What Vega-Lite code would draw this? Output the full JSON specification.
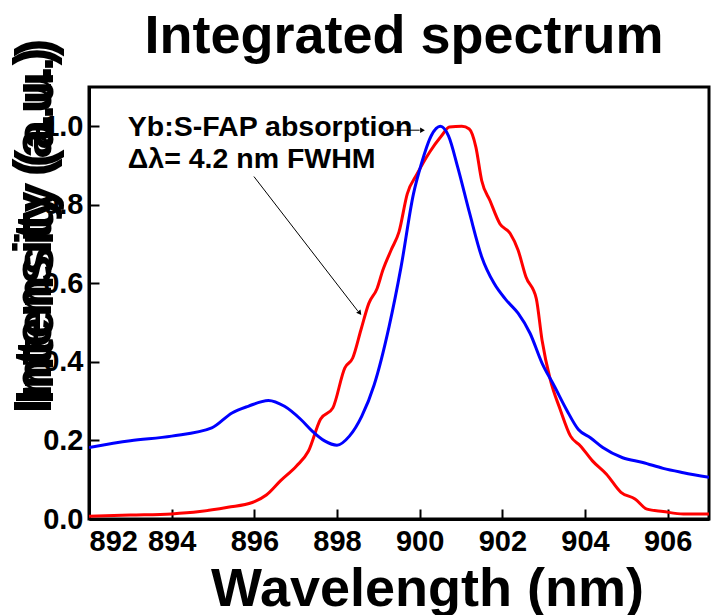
{
  "$schema": "https://vega.github.io/schema/vega-lite/v6.json",
  "autosize": "none",
  "width": 620,
  "height": 432,
  "padding": {"left": 89, "top": 87, "right": 3, "bottom": 96},
  "background": "white",
  "title": {"text": "Integrated spectrum", "fontSize": 54, "font": "Liberation Sans", "fontWeight": "bold", "color": "black", "anchor": "middle", "dx": 5, "dy": 54, "offset": 28},
  "config": {
    "view": {"stroke": "black", "strokeWidth": 3},
    "axis": {
      "grid": false,
      "domainColor": "black", "domainWidth": 3,
      "tickColor": "black", "tickWidth": 2, "tickSize": -10,
      "labelFont": "Liberation Sans", "labelFontWeight": "bold", "labelFontSize": 29, "labelColor": "black",
      "titleFont": "Liberation Sans", "titleFontWeight": "bold", "titleFontSize": 54, "titleColor": "black"
    }
  },
  "datasets": {
    "red": [
      {"wl": 892.0, "v": 0.007}, {"wl": 893.0, "v": 0.010}, {"wl": 894.0, "v": 0.013}, {"wl": 894.68, "v": 0.019},
      {"wl": 895.36, "v": 0.030}, {"wl": 895.95, "v": 0.042}, {"wl": 896.29, "v": 0.061}, {"wl": 896.63, "v": 0.097},
      {"wl": 897.02, "v": 0.135}, {"wl": 897.31, "v": 0.173}, {"wl": 897.6, "v": 0.254}, {"wl": 897.9, "v": 0.283},
      {"wl": 898.19, "v": 0.385}, {"wl": 898.38, "v": 0.41}, {"wl": 898.58, "v": 0.482}, {"wl": 898.77, "v": 0.549},
      {"wl": 898.97, "v": 0.587}, {"wl": 899.11, "v": 0.634}, {"wl": 899.31, "v": 0.685}, {"wl": 899.5, "v": 0.731},
      {"wl": 899.7, "v": 0.828}, {"wl": 899.94, "v": 0.879}, {"wl": 900.24, "v": 0.934}, {"wl": 900.53, "v": 0.976},
      {"wl": 900.72, "v": 0.998}, {"wl": 901.02, "v": 1.0}, {"wl": 901.2, "v": 0.993}, {"wl": 901.36, "v": 0.947},
      {"wl": 901.5, "v": 0.862}, {"wl": 901.7, "v": 0.811}, {"wl": 901.94, "v": 0.752}, {"wl": 902.19, "v": 0.727},
      {"wl": 902.38, "v": 0.685}, {"wl": 902.57, "v": 0.617}, {"wl": 902.82, "v": 0.562}, {"wl": 902.96, "v": 0.456},
      {"wl": 903.16, "v": 0.355}, {"wl": 903.4, "v": 0.279}, {"wl": 903.65, "v": 0.211}, {"wl": 903.89, "v": 0.186},
      {"wl": 904.18, "v": 0.148}, {"wl": 904.52, "v": 0.114}, {"wl": 904.87, "v": 0.068}, {"wl": 905.21, "v": 0.051},
      {"wl": 905.5, "v": 0.025}, {"wl": 905.89, "v": 0.019}, {"wl": 906.38, "v": 0.013}, {"wl": 907.0, "v": 0.013}
    ],
    "blue": [
      {"wl": 892.0, "v": 0.182}, {"wl": 893.0, "v": 0.199}, {"wl": 894.0, "v": 0.211}, {"wl": 894.97, "v": 0.232},
      {"wl": 895.46, "v": 0.27}, {"wl": 895.85, "v": 0.287}, {"wl": 896.34, "v": 0.302}, {"wl": 896.73, "v": 0.287},
      {"wl": 897.12, "v": 0.254}, {"wl": 897.4, "v": 0.224}, {"wl": 897.7, "v": 0.199}, {"wl": 898.0, "v": 0.188},
      {"wl": 898.3, "v": 0.211}, {"wl": 898.6, "v": 0.262}, {"wl": 898.9, "v": 0.342}, {"wl": 899.26, "v": 0.49},
      {"wl": 899.55, "v": 0.642}, {"wl": 899.85, "v": 0.828}, {"wl": 900.04, "v": 0.904}, {"wl": 900.28, "v": 0.976},
      {"wl": 900.5, "v": 1.0}, {"wl": 900.7, "v": 0.975}, {"wl": 900.92, "v": 0.896}, {"wl": 901.21, "v": 0.778},
      {"wl": 901.5, "v": 0.668}, {"wl": 901.8, "v": 0.60}, {"wl": 902.09, "v": 0.558}, {"wl": 902.38, "v": 0.524},
      {"wl": 902.67, "v": 0.473}, {"wl": 902.96, "v": 0.397}, {"wl": 903.26, "v": 0.338}, {"wl": 903.55, "v": 0.279},
      {"wl": 903.84, "v": 0.228}, {"wl": 904.13, "v": 0.207}, {"wl": 904.43, "v": 0.182}, {"wl": 904.91, "v": 0.156},
      {"wl": 905.4, "v": 0.144}, {"wl": 905.89, "v": 0.129}, {"wl": 906.38, "v": 0.118}, {"wl": 907.0, "v": 0.106}
    ],
    "notes": [
      {"wl": 892.94, "v": 0.974, "label": "Yb:S-FAP absorption"},
      {"wl": 892.94, "v": 0.895, "label": "Δλ= 4.2 nm FWHM"}
    ],
    "arrows": [
      {"wl": 899.2, "v": 0.99, "wl2": 900.0, "v2": 0.99},
      {"wl": 895.99, "v": 0.872, "wl2": 898.5, "v2": 0.53}
    ],
    "headRight": [{"wl": 900.05, "v": 0.99}],
    "headDiag": [{"wl": 898.54, "v": 0.526}]
  },
  "layer": [
    {
      "data": {"name": "red"},
      "mark": {"type": "line", "color": "#ff0000", "strokeWidth": 3, "clip": true, "interpolate": "monotone"},
      "encoding": {
        "x": {"field": "wl", "type": "quantitative", "scale": {"domain": [892, 907], "nice": false, "zero": false},
              "axis": {"values": [892, 894, 896, 898, 900, 902, 904, 906], "labelPadding": 18, "title": "Wavelength (nm)", "titleX": 338, "titleY": 86, "titleBaseline": "alphabetic", "titleAnchor": null}},
        "y": {"field": "v", "type": "quantitative", "scale": {"domain": [0, 1.1], "nice": false},
              "axis": {"values": [0, 0.2, 0.4, 0.6, 0.8, 1.0], "format": ".1f", "labelPadding": 16, "title": "Intensity (a.u.)", "titleX": -39, "titleY": 143, "titleBaseline": "alphabetic", "orient": "left"}}
      }
    },
    {
      "data": {"name": "blue"},
      "mark": {"type": "line", "color": "#0000ff", "strokeWidth": 3, "clip": true, "interpolate": "monotone"},
      "encoding": {
        "x": {"field": "wl", "type": "quantitative"},
        "y": {"field": "v", "type": "quantitative",
              "axis": {"orient": "left", "labels": false, "ticks": false, "domain": false, "title": "Intensity (a.u.)", "titleX": -37, "titleY": 134, "titleBaseline": "alphabetic"}}
      }
    },
    {
      "data": {"name": "notes"},
      "mark": {"type": "text", "align": "left", "baseline": "alphabetic", "font": "Liberation Sans", "fontWeight": "bold", "fontSize": 28.5, "color": "black"},
      "encoding": {
        "x": {"field": "wl", "type": "quantitative"},
        "y": {"field": "v", "type": "quantitative", "axis": null},
        "text": {"field": "label"}
      }
    },
    {
      "data": {"name": "arrows"},
      "mark": {"type": "rule", "color": "black", "strokeWidth": 1},
      "encoding": {
        "x": {"field": "wl", "type": "quantitative"},
        "y": {"field": "v", "type": "quantitative", "axis": null},
        "x2": {"field": "wl2"},
        "y2": {"field": "v2"}
      }
    },
    {
      "data": {"name": "headRight"},
      "mark": {"type": "point", "shape": "triangle", "filled": true, "color": "black", "size": 30, "angle": 90, "opacity": 1},
      "encoding": {
        "x": {"field": "wl", "type": "quantitative"},
        "y": {"field": "v", "type": "quantitative", "axis": null}
      }
    },
    {
      "data": {"name": "headDiag"},
      "mark": {"type": "point", "shape": "triangle", "filled": true, "color": "black", "size": 30, "angle": 142, "opacity": 1},
      "encoding": {
        "x": {"field": "wl", "type": "quantitative"},
        "y": {"field": "v", "type": "quantitative", "axis": null}
      }
    }
  ],
  "resolve": {"axis": {"y": "independent"}}
}
